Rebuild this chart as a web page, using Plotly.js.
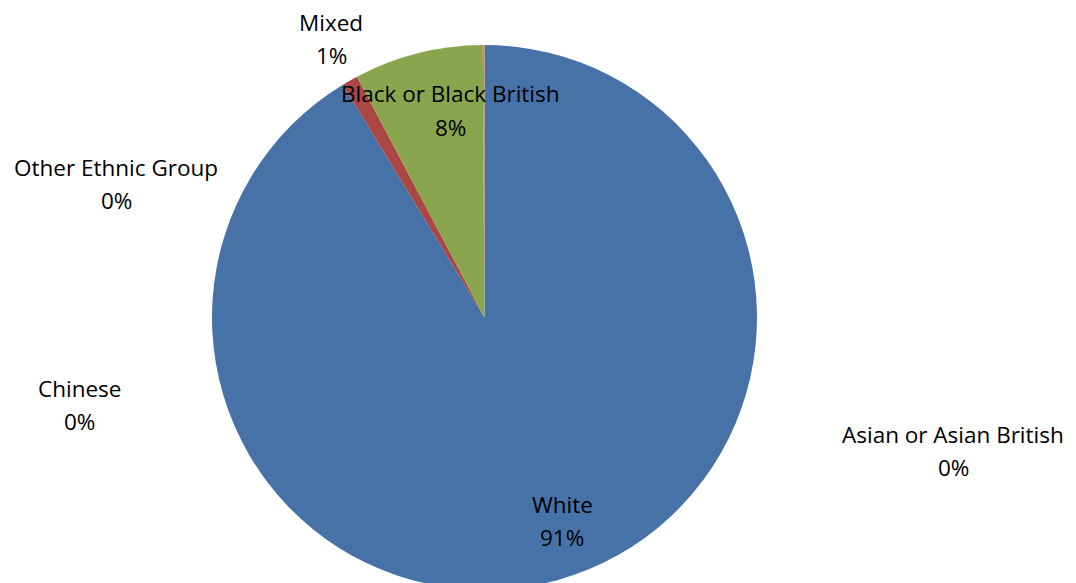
<!DOCTYPE html>
<html>
<head>
<meta charset="utf-8">
<script src="https://cdn.plot.ly/plotly-3.0.1.min.js"></script>
<style>
html, body { margin: 0; padding: 0; overflow: hidden; background: #fff; }
#chart { width: 1076px; height: 640px; }
</style>
</head>
<body>
<div id="chart"></div>
<script>
// Data (share of population, %)
const categories = ["White", "Mixed", "Black or Black British", "Asian or Asian British", "Chinese", "Other Ethnic Group"];
const values = [91.3, 0.95, 7.65, 0, 0, 0.1];
const colors = ["#4672A8", "#AA4643", "#89A54E", "#71588F", "#4198AF", "#DB843D"];

// Label placement (pixel centres of the name line; percent line sits below)
const labelX = [562, 331, 450, 953, 79, 116];
const labelY = [504, 22, 94, 434, 388, 167];

const W = 1076, H = 640;
const total = values.reduce((a, b) => a + b, 0);
const pct = values.map(v => Math.round(v / total * 100) + "%");

const font = { family: "'Open Sans', sans-serif", size: 22.5, color: "#000" };
const annotations = [];
categories.forEach((c, i) => {
  annotations.push({ text: c, x: labelX[i] / W, y: 1 - labelY[i] / H, xref: "paper", yref: "paper",
    xanchor: "center", yanchor: "middle", showarrow: false, font: font });
  annotations.push({ text: pct[i], x: labelX[i] / W, y: 1 - (labelY[i] + 33.5) / H, xref: "paper", yref: "paper",
    xanchor: "center", yanchor: "middle", showarrow: false, font: font });
});

const trace = {
  type: "pie",
  labels: categories,
  values: values,
  sort: false,
  direction: "clockwise",
  rotation: 0,
  marker: { colors: colors, line: { width: 0 } },
  textinfo: "none",
  hoverinfo: "label+percent",
  domain: { x: [212 / W, 757 / W], y: [1 - 590 / H, 1 - 45 / H] }
};

const layout = {
  width: W, height: H,
  margin: { l: 0, r: 0, t: 0, b: 0 },
  showlegend: false,
  paper_bgcolor: "#fff",
  annotations: annotations
};

Plotly.newPlot("chart", [trace], layout, { displayModeBar: false, staticPlot: true });
</script>
</body>
</html>
